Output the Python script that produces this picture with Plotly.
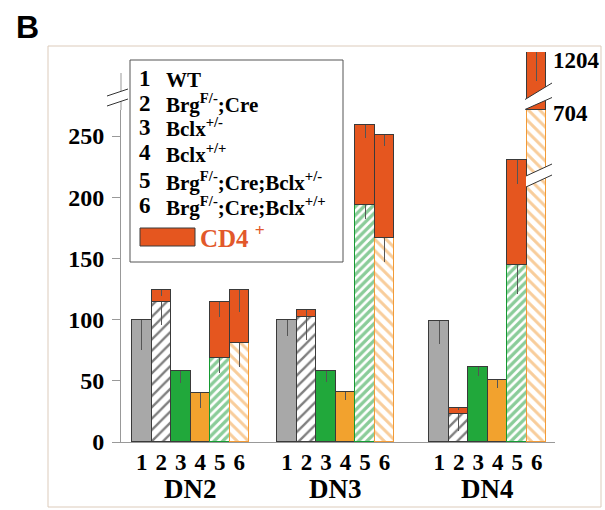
import plotly.graph_objects as go

# ---------------- data ----------------
groups = ["DN2", "DN3", "DN4"]
bar_numbers = ["1", "2", "3", "4", "5", "6"]
legend_labels = ["WT", "Brg<sup>F/-</sup>;Cre", "Bclx<sup>+/-</sup>", "Bclx<sup>+/+</sup>",
                 "Brg<sup>F/-</sup>;Cre;Bclx<sup>+/-</sup>", "Brg<sup>F/-</sup>;Cre;Bclx<sup>+/+</sup>"]
cd4_label = "CD4 <sup>+</sup>"

# CD4- (base) values, per group DN2, DN3, DN4
wt = [100, 100, 99]
brg = [114, 102, 23]
bclx_het = [58, 58, 61]
bclx_hom = [40, 41, 51]
brg_bclx_het = [69, 194, 145]
brg_bclx_hom = [81, 167, 704]
# totals including CD4+ cells
brg_total = [124, 108, 28]
brg_bclx_het_total = [114, 259, 230]
brg_bclx_hom_total = [124, 251, 1204]
# error (drawn downward only)
wt_err = [25, 13, 19]
brg_err = [18, 19, 14]
bclx_het_err = [10, 9, 7]
bclx_hom_err = [12, 7, 7]
brg_bclx_het_err = [13, 12, 24]
brg_bclx_hom_err = [20, 20, 0]
brg_cd4_err = [5, 5, 2]
brg_bclx_het_cd4_err = [12, 11, 19]
brg_bclx_hom_cd4_err = [18, 9, 250]

# ---------------- geometry ----------------
W, H = 605, 510
ML, MR, MT, MB = 121, 50, 52, 68
PW, PH = W - ML - MR, H - MT - MB
BASE_Y = H - MB


def px(x):
    return (x - ML) / PW


def py(y):
    return (BASE_Y - y) / PH


group_offsets = [0, 7.45, 15.25]
unit = 19.5
x_start = -0.5 - (132 - ML) / unit
x_end = x_start + PW / unit
lower_top_px = 110
y_lower_max = (BASE_Y - lower_top_px) / 1.224


def xs(i):
    return [group_offsets[g] + i for g in range(3)]


SERIF = "Liberation Serif"
GRAY = "#A8A8A8"
GREEN = "#21A83B"
ORANGE = "#F2A22E"
RED = "#E5561F"
HATCH_GREEN = "#159A33"
HATCH_ORANGE = "#F29B38"
EDGE = "#3A3A3A"
ERRC = "#555555"


def err(vals):
    return dict(type="data", symmetric=False, array=[0] * len(vals), arrayminus=vals,
                width=0, thickness=1, color=ERRC)


fig = go.Figure()

base_series = [
    (wt, wt_err, dict(color=GRAY, line=dict(color=EDGE, width=1))),
    (brg, brg_err, dict(color="white", line=dict(color=EDGE, width=1),
                        pattern=dict(shape="/", fgcolor="#000000", bgcolor="white", size=8, solidity=0.3))),
    (bclx_het, bclx_het_err, dict(color=GREEN, line=dict(color=EDGE, width=1))),
    (bclx_hom, bclx_hom_err, dict(color=ORANGE, line=dict(color=EDGE, width=1))),
    (brg_bclx_het, brg_bclx_het_err, dict(color="white", line=dict(color=HATCH_GREEN, width=1.5),
                                          pattern=dict(shape="/", fgcolor=HATCH_GREEN, bgcolor="white", size=6, solidity=0.55))),
    (brg_bclx_hom, brg_bclx_hom_err, dict(color="white", line=dict(color=HATCH_ORANGE, width=1.5),
                                          pattern=dict(shape="\\", fgcolor=HATCH_ORANGE, bgcolor="white", size=8, solidity=0.38))),
]

for i, (vals, e, mk) in enumerate(base_series):
    fig.add_trace(go.Bar(x=xs(i), y=vals, width=1, marker=mk, error_y=err(e),
                         showlegend=False, name=legend_labels[i]))

# CD4+ segments stacked on genotypes 2, 5, 6
cd4_x, cd4_y, cd4_e = [], [], []
for i, base, tot, e in [(1, brg, brg_total, brg_cd4_err),
                        (4, brg_bclx_het, brg_bclx_het_total, brg_bclx_het_cd4_err),
                        (5, brg_bclx_hom, brg_bclx_hom_total, brg_bclx_hom_cd4_err)]:
    for g in range(3):
        cd4_x.append(group_offsets[g] + i)
        cd4_y.append(tot[g] - base[g])
        cd4_e.append(e[g])
fig.add_trace(go.Bar(x=cd4_x, y=cd4_y, width=1, marker=dict(color=RED, line=dict(color=EDGE, width=1)),
                     error_y=err(cd4_e), showlegend=False, name="CD4+"))

# upper (broken) axis: the DN4 bar 6 again, on yaxis2
big_x = [group_offsets[2] + 5]
fig.add_trace(go.Bar(x=big_x, y=[brg_bclx_hom[2]], width=1, yaxis="y2", marker=base_series[5][2],
                     showlegend=False))
fig.add_trace(go.Bar(x=big_x, y=[brg_bclx_hom_total[2] - brg_bclx_hom[2]], width=1, yaxis="y2",
                     marker=dict(color=RED, line=dict(color=EDGE, width=1)),
                     error_y=err([brg_bclx_hom_cd4_err[2]]), showlegend=False))

shapes = []
ann = []

# panel frame
shapes.append(dict(type="rect", xref="paper", yref="paper", x0=px(48), x1=px(601), y0=py(46), y1=py(507),
                   line=dict(color="#DCCBBB", width=1), fillcolor="rgba(0,0,0,0)", layer="below"))

# y-axis extension above break
shapes.append(dict(type="line", xref="paper", yref="paper", x0=0, x1=0, y0=py(lower_top_px), y1=py(73),
                   line=dict(color="#999999", width=1)))


def brk(xa, xb, ya_top, yb_top, ya_bot, yb_bot):
    path = f"M {px(xa)} {py(ya_top)} L {px(xb)} {py(yb_top)} L {px(xb)} {py(yb_bot)} L {px(xa)} {py(ya_bot)} Z"
    shapes.append(dict(type="path", xref="paper", yref="paper", path=path, fillcolor="white",
                       line=dict(width=0)))
    for y0, y1 in [(ya_top, yb_top), (ya_bot, yb_bot)]:
        shapes.append(dict(type="line", xref="paper", yref="paper", x0=px(xa), x1=px(xb), y0=py(y0), y1=py(y1),
                           line=dict(color="#333333", width=1)))


brk(107, 128, 96, 89, 106, 99)
brk(525, 552, 99.5, 83, 109.5, 97.5)
brk(526, 552, 176, 164, 187, 175)

# legend box
shapes.append(dict(type="rect", xref="paper", yref="paper", x0=px(130), x1=px(343), y0=py(60), y1=py(262),
                   line=dict(color="#555555", width=1), fillcolor="white"))
row_y = [79, 103, 127, 152, 180, 205]
for k in range(6):
    ann.append(dict(xref="paper", yref="paper", x=px(137), y=py(row_y[k]), text=bar_numbers[k],
                    xanchor="left", yanchor="middle", showarrow=False,
                    font=dict(family=SERIF, size=23, color="black", weight="bold")))
    ann.append(dict(xref="paper", yref="paper", x=px(164), y=py(row_y[k] + 1), text=legend_labels[k],
                    xanchor="left", yanchor="middle", showarrow=False,
                    font=dict(family=SERIF, size=21, color="black", weight="bold")))
shapes.append(dict(type="rect", xref="paper", yref="paper", x0=px(140), x1=px(195), y0=py(228), y1=py(246),
                   line=dict(color=EDGE, width=1), fillcolor=RED))
ann.append(dict(xref="paper", yref="paper", x=px(198), y=py(236), text=cd4_label,
                xanchor="left", yanchor="middle", showarrow=False,
                font=dict(family=SERIF, size=25, color="#E2582B", weight="bold")))

# group labels
for g, name in enumerate(groups):
    ann.append(dict(xref="x", yref="paper", x=group_offsets[g] + 2.5, y=py(489), text=name,
                    xanchor="center", yanchor="middle", showarrow=False,
                    font=dict(family=SERIF, size=27, color="black", weight="bold")))

# value labels for the broken bar
ann.append(dict(xref="x", yref="y2", x=big_x[0] + 0.5, y=brg_bclx_hom_total[2], text=str(brg_bclx_hom_total[2]),
                xanchor="left", yanchor="middle", xshift=5, yshift=-8, showarrow=False,
                font=dict(family=SERIF, size=23, color="black", weight="bold")))
ann.append(dict(xref="x", yref="y2", x=big_x[0] + 0.5, y=brg_bclx_hom[2], text=str(brg_bclx_hom[2]),
                xanchor="left", yanchor="middle", xshift=5, yshift=-3, showarrow=False,
                font=dict(family=SERIF, size=23, color="black", weight="bold")))

# panel letter
ann.append(dict(xref="paper", yref="paper", x=px(27), y=py(27), text="B", xanchor="center", yanchor="middle",
                showarrow=False, font=dict(family="Liberation Sans", size=32, color="black", weight="bold")))

tick_x = [group_offsets[g] + i for g in range(3) for i in range(6)]
tick_t = [bar_numbers[i] for g in range(3) for i in range(6)]

fig.update_layout(
    width=W, height=H, margin=dict(l=ML, r=MR, t=MT, b=MB, pad=0),
    paper_bgcolor="white", plot_bgcolor="white", barmode="stack", bargap=0,
    xaxis=dict(range=[x_start, x_end], tickvals=tick_x, ticktext=tick_t, ticks="", showline=True,
               linecolor="#999999", linewidth=1, showgrid=False, zeroline=False, ticklabelstandoff=-1,
               tickfont=dict(family=SERIF, size=23, color="black", weight="bold")),
    yaxis=dict(domain=[0, py(lower_top_px)], range=[0, y_lower_max], tickvals=[0, 50, 100, 150, 200, 250],
               ticks="outside", ticklen=8, tickcolor="#999999", showline=True, linecolor="#999999",
               linewidth=1, showgrid=False, zeroline=False, ticklabelstandoff=3,
               tickfont=dict(family=SERIF, size=24, color="black", weight="bold")),
    yaxis2=dict(domain=[py(lower_top_px), 1], range=[brg_bclx_hom[2], brg_bclx_hom_total[2]], anchor="x",
                visible=False),
    shapes=shapes, annotations=ann,
)

fig.write_html("out.html", config={"displayModeBar": False},
               post_script="document.body.style.margin='0px';")
